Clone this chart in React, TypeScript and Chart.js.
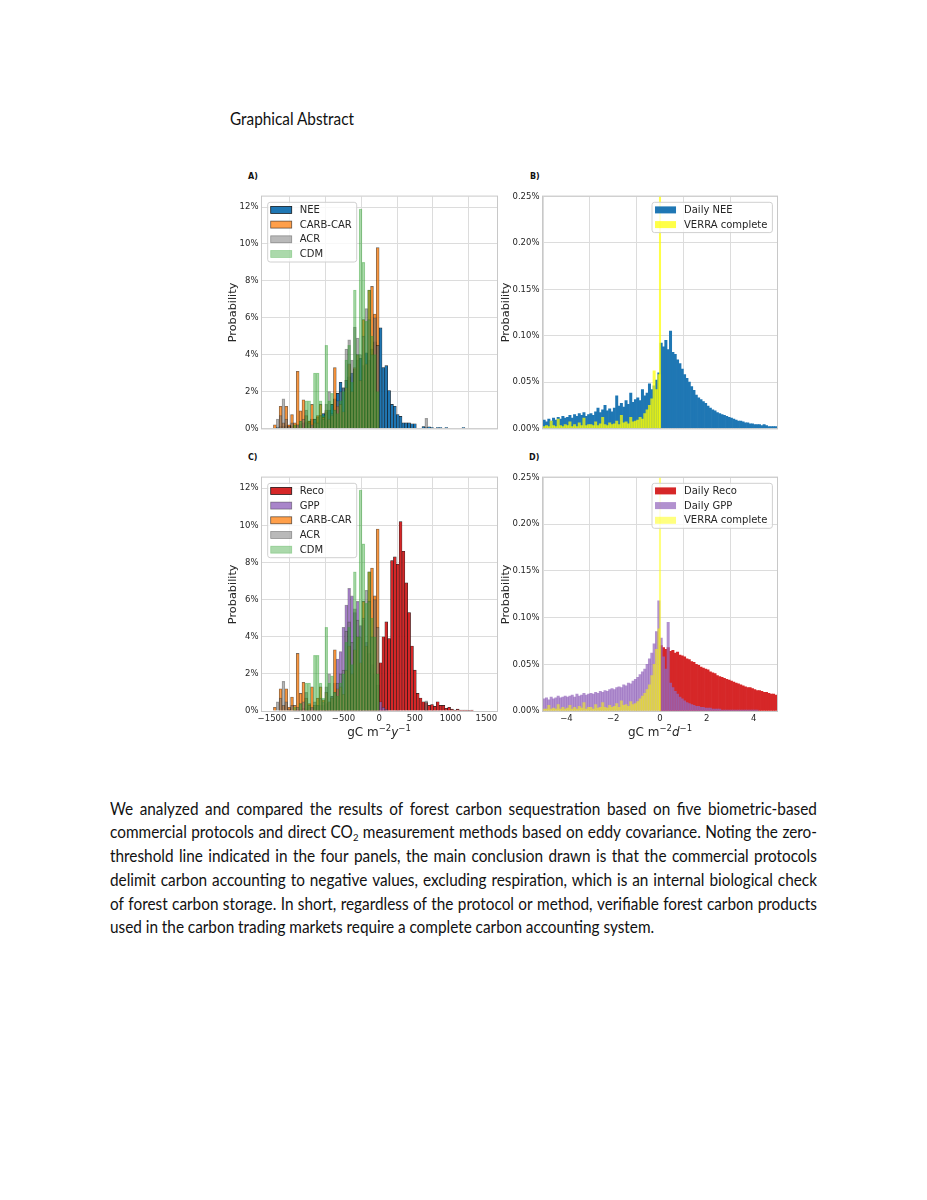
import React, { useEffect, useRef } from "react";
import { Chart, registerables } from "chart.js";

Chart.register(...registerables);

// ---------------- DATA ----------------
// Annual histograms (gC m-2 y-1), bin width 40, values in %
const ANNUAL_BIN = 40;
const NEE_START = -1520;
const neeAnnual = [
  0, 0, 0.05, 0.1, 0.1, 0.15, 0.15, 0.1, 0.2, 0.2,
  0.25, 0.3, 0.35, 0.4, 0.5, 0.5, 0.6, 0.7, 0.8, 0.9,
  1.0, 1.3, 1.6, 1.9, 2.5, 2.2, 2.6, 2.8, 3.0, 3.2,
  3.7, 3.8, 3.4, 4.1, 3.7, 4.3, 4.7, 4.5, 5.45, 3.3,
  3.4, 2.05, 1.3, 1.2, 0.75, 0.65, 0.3, 0.3, 0.3, 0.25,
  0.25, 0, 0, 0.1, 0.05, 0.08, 0.05, 0, 0.05, 0.05,
  0, 0.05, 0, 0, 0, 0, 0, 0.05,
];
const CARB_START = -1520;
const carbCar = [
  0, 0.2, 0, 1.2, 0.3, 1.2, 0.2, 0.75, 0.3, 3.1,
  0.95, 1.55, 0.7, 0.4, 1.3, 0.3, 0.7, 1.3, 0.6, 1.0,
  0.5, 0.7, 3.3, 1.2, 1.3, 0.9, 2.2, 3.5, 2.0, 3.3,
  4.0, 2.6, 5.9, 3.5, 7.5, 7.7, 6.2, 9.8,
];
const ACR_START = -1520;
const acr = [
  0, 0, 0.5, 0.7, 1.6, 0.5, 0.1, 0.3, 0, 0.2,
  0.4, 0.5, 1.0, 0.3, 0.2, 0.5, 0.3, 0.7, 0.5, 1.3,
  2.0, 0.8, 1.0, 1.5, 2.0, 2.2, 4.3, 4.8, 3.7, 5.5,
  4.9, 4.0, 5.0, 6.5, 5.9, 4.0, 6.0, 4.5, 0, 0,
  0, 0, 0, 0, 0, 0, 0, 0, 0, 0,
  0, 0, 0, 0, 0.55,
];
const CDM_START = -1520;
const cdm = [
  0, 0, 0, 0, 0, 0, 0, 0, 0.2, 0,
  0.4, 0, 1.5, 1.5, 0, 3.0, 3.0, 1.5, 0.7, 4.5,
  1.5, 1.9, 1.0, 0.8, 1.5, 2.0, 3.7, 4.5, 2.5, 7.5,
  4.0, 11.9, 9.0, 5.8, 7.5, 5.0, 4.0, 2.0,
];
const GPP_START = -1200;
const gppAnnual = [
  0.05, 0.1, 0.1, 0.15, 0.1, 0.2, 0.15, 0.2, 0.25, 0.3,
  0.3, 0.4, 0.5, 0.8, 1.5, 2.8, 3.2, 4.5, 5.7, 6.6,
  6.2, 5.3, 5.9, 4.6, 4.9, 3.7, 3.1, 2.5, 2.0, 1.4,
  0.5, 0.2, 0.1,
];
const RECO_START = 0;
const recoAnnual = [
  2.6, 4.0, 4.8, 3.9, 8.1, 8.3, 7.9, 10.2, 8.6, 6.9,
  5.3, 3.5, 2.2, 0.95, 0.7, 0.5, 0.45, 0.3, 0.35, 0.25,
  0.5, 0.3, 0.3, 0.15, 0.2, 0.1, 0.05, 0.1, 0.05, 0.05,
  0.05, 0.03, 0.05,
];

// Daily histograms (gC m-2 d-1), bin width 0.1, values in %
const DAILY_BIN = 0.1;
const DAILY_START = -5;
const dailyNEE = [
  0.009, 0.007, 0.010, 0.008, 0.011, 0.009, 0.012, 0.010, 0.013, 0.011,
  0.012, 0.014, 0.011, 0.015, 0.013, 0.016, 0.014, 0.017, 0.013, 0.015,
  0.016, 0.014, 0.018, 0.022, 0.017, 0.020, 0.025, 0.019, 0.021, 0.018,
  0.022, 0.035, 0.024, 0.027, 0.023, 0.030, 0.026, 0.038, 0.028, 0.031,
  0.033, 0.030, 0.042, 0.035, 0.038, 0.048, 0.042, 0.046, 0.052, 0.060,
  0.092, 0.088, 0.095, 0.085, 0.105, 0.082, 0.080, 0.074, 0.070, 0.064,
  0.058, 0.054, 0.050, 0.045, 0.041, 0.036, 0.033, 0.031, 0.029, 0.027,
  0.024, 0.022, 0.020, 0.019, 0.017, 0.016, 0.015, 0.014, 0.013, 0.012,
  0.011, 0.010, 0.009, 0.008, 0.008, 0.007, 0.006, 0.006, 0.005, 0.005,
  0.004, 0.004, 0.004, 0.003, 0.004, 0.003, 0.002, 0.002, 0.002, 0.002,
];
const verraDailyB = [
  0.002, 0.003, 0.002, 0.008, 0.003, 0.002, 0.010, 0.003, 0.002, 0.004,
  0.003, 0.007, 0.002, 0.004, 0.002, 0.006, 0.003, 0.011, 0.003, 0.004,
  0.004, 0.003, 0.007, 0.003, 0.005, 0.012, 0.004, 0.003, 0.006, 0.004,
  0.005, 0.008, 0.004, 0.014, 0.006, 0.007, 0.005, 0.012, 0.007, 0.008,
  0.009, 0.012, 0.010, 0.016, 0.020, 0.025, 0.032, 0.062, 0.042, 0.058,
];
const verraZeroB = 0.3;
const RECO_DAILY_START = 0;
const dailyReco = [
  0.070, 0.068, 0.066, 0.068, 0.064, 0.065, 0.062, 0.063, 0.060, 0.059,
  0.058, 0.056, 0.055, 0.053, 0.052, 0.050, 0.049, 0.047, 0.046, 0.045,
  0.044, 0.042, 0.041, 0.040, 0.038, 0.037, 0.036, 0.035, 0.034, 0.033,
  0.032, 0.031, 0.030, 0.029, 0.028, 0.027, 0.026, 0.025, 0.025, 0.024,
  0.023, 0.022, 0.022, 0.021, 0.020, 0.020, 0.019, 0.018, 0.018, 0.017,
];
const dailyGPP = [
  0.013, 0.014, 0.012, 0.015, 0.013, 0.014, 0.016, 0.014, 0.015, 0.016,
  0.015, 0.016, 0.017, 0.015, 0.018, 0.016, 0.017, 0.019, 0.017, 0.018,
  0.019, 0.018, 0.020, 0.019, 0.021, 0.020, 0.022, 0.021, 0.023, 0.024,
  0.023, 0.025, 0.026, 0.025, 0.028, 0.027, 0.030, 0.029, 0.032, 0.034,
  0.036, 0.039, 0.042, 0.045, 0.050, 0.056, 0.062, 0.072, 0.085, 0.118,
  0.078, 0.058, 0.045, 0.095, 0.030, 0.025, 0.021, 0.018, 0.015, 0.013,
  0.011, 0.009, 0.008, 0.007, 0.006, 0.005, 0.005, 0.004, 0.004, 0.003,
  0.003, 0.003, 0.002, 0.002, 0.002, 0.002, 0.001, 0.001, 0.001, 0.001,
  0.001, 0.001, 0.001, 0.001, 0.001, 0.001, 0.001, 0.001, 0.001, 0.001,
  0.001, 0.001, 0, 0, 0, 0, 0, 0, 0, 0,
];
const verraDailyD = [
  0.002, 0.002, 0.006, 0.002, 0.003, 0.002, 0.007, 0.002, 0.004, 0.002,
  0.003, 0.006, 0.002, 0.004, 0.002, 0.005, 0.003, 0.009, 0.002, 0.004,
  0.004, 0.002, 0.007, 0.003, 0.004, 0.009, 0.004, 0.003, 0.006, 0.004,
  0.005, 0.008, 0.004, 0.011, 0.006, 0.007, 0.005, 0.010, 0.007, 0.008,
  0.010, 0.013, 0.016, 0.019, 0.023, 0.028, 0.038, 0.050, 0.066, 0.088,
];
const verraZeroD = 0.3;
const VERRA_ZERO_WIDTH = 0.06;

// Axis ticks
const annualXTicks = [-1500, -1000, -500, 0, 500, 1000, 1500];
const annualXLabels = ["\u22121500", "\u22121000", "\u2212500", "0", "500", "1000", "1500"];
const annualYTicks = [0, 2, 4, 6, 8, 10, 12];
const annualYLabels = ["0%", "2%", "4%", "6%", "8%", "10%", "12%"];
const dailyXTicks = [-4, -2, 0, 2, 4];
const dailyXLabels = ["\u22124", "\u22122", "0", "2", "4"];
const dailyYTicks = [0, 0.05, 0.1, 0.15, 0.2, 0.25];
const dailyYLabels = ["0.00%", "0.05%", "0.10%", "0.15%", "0.20%", "0.25%"];

const paragraphLines = [
  "We analyzed and compared the results of forest carbon sequestration based on five biometric-based",
  "commercial protocols and direct CO\u2082 measurement methods based on eddy covariance. Noting the zero-",
  "threshold line indicated in the four panels, the main conclusion drawn is that the commercial protocols",
  "delimit carbon accounting to negative values, excluding respiration, which is an internal biological check",
  "of forest carbon storage. In short, regardless of the protocol or method, verifiable forest carbon products",
  "used in the carbon trading markets require a complete carbon accounting system.",
];

// ---------------- HELPERS ----------------
type Pt = { x: number; y: number; w: number };
function makeBins(start: number, width: number, values: number[]): Pt[] {
  return values
    .map((v, i) => ({ x: start + width * (i + 0.5), y: v, w: width }))
    .filter((p) => p.y > 0);
}

const FONT = "'DejaVu Sans', sans-serif";
const TXT = "#262626";
const BODY_FONT = "Lato, 'Open Sans', sans-serif";

const STY = {
  nee: { fill: "rgb(31,119,180)", edge: "rgba(0,0,0,0.85)", bw: 0.6 },
  carb: { fill: "rgba(255,127,14,0.75)", edge: "rgba(0,0,0,0.6)", bw: 0.6 },
  acr: { fill: "rgba(128,128,128,0.55)", edge: "rgba(0,0,0,0.35)", bw: 0.6 },
  cdm: { fill: "rgba(44,160,44,0.4)", edge: "rgba(44,160,44,0.35)", bw: 0.5 },
  reco: { fill: "rgb(214,39,40)", edge: "rgba(0,0,0,0.85)", bw: 0.6 },
  gpp: { fill: "rgba(148,103,189,0.8)", edge: "rgba(0,0,0,0.4)", bw: 0.6 },
  dNee: { fill: "rgb(31,119,180)", edge: "rgba(0,0,0,0)", bw: 0 },
  verraB: { fill: "rgba(255,255,0,0.72)", edge: "rgba(0,0,0,0)", bw: 0 },
  dReco: { fill: "rgb(214,39,40)", edge: "rgba(0,0,0,0)", bw: 0 },
  dGpp: { fill: "rgba(148,103,189,0.72)", edge: "rgba(0,0,0,0)", bw: 0 },
  verraD: { fill: "rgba(255,255,0,0.5)", edge: "rgba(0,0,0,0)", bw: 0 },
};

type Series = { label: string; data: Pt[]; sty: { fill: string; edge: string; bw: number } };

const histPlugin = {
  id: "histWidth",
  afterDatasetsUpdate(chart: any) {
    const xs = chart.scales.x;
    chart.data.datasets.forEach((ds: any, di: number) => {
      const meta = chart.getDatasetMeta(di);
      meta.data.forEach((el: any, i: number) => {
        const d = ds.data[i];
        const l = xs.getPixelForValue(d.x - d.w / 2);
        const r = xs.getPixelForValue(d.x + d.w / 2);
        el.x = (l + r) / 2;
        el.width = Math.max(r - l, 0.8);
      });
    });
  },
};

const framePlugin = {
  id: "frame",
  afterDatasetsDraw(chart: any) {
    const { ctx, chartArea: a } = chart;
    ctx.save();
    ctx.strokeStyle = "#c8c8c8";
    ctx.lineWidth = 1;
    ctx.strokeRect(a.left - 0.5, a.top - 0.5, a.right - a.left + 1, a.bottom - a.top + 1);
    ctx.restore();
  },
};

const legendPlugin = {
  id: "mplLegend",
  afterDraw(chart: any, _args: any, opts: any) {
    const items = opts.items as Series[];
    if (!items || !items.length) return;
    const { ctx, chartArea: a } = chart;
    ctx.save();
    ctx.font = `10px ${FONT}`;
    const tw = Math.max(...items.map((it) => ctx.measureText(it.label).width));
    const bw = 3 + 21 + 8 + tw + 5;
    const bh = 15.6 + (items.length - 1) * 14.7;
    const x0 = opts.align === "right" ? a.right - 4.6 - bw : a.left + 5.7;
    const y0 = a.top + 5.7;
    const r = 2.5;
    ctx.beginPath();
    ctx.moveTo(x0 + r, y0);
    ctx.lineTo(x0 + bw - r, y0);
    ctx.quadraticCurveTo(x0 + bw, y0, x0 + bw, y0 + r);
    ctx.lineTo(x0 + bw, y0 + bh - r);
    ctx.quadraticCurveTo(x0 + bw, y0 + bh, x0 + bw - r, y0 + bh);
    ctx.lineTo(x0 + r, y0 + bh);
    ctx.quadraticCurveTo(x0, y0 + bh, x0, y0 + bh - r);
    ctx.lineTo(x0, y0 + r);
    ctx.quadraticCurveTo(x0, y0, x0 + r, y0);
    ctx.closePath();
    ctx.fillStyle = "rgba(255,255,255,0.8)";
    ctx.fill();
    ctx.strokeStyle = "#d0d0d0";
    ctx.lineWidth = 1;
    ctx.stroke();
    items.forEach((it, i) => {
      const cy = y0 + 7.6 + i * 14.7;
      ctx.fillStyle = it.sty.fill;
      ctx.fillRect(x0 + 3, cy - 3.5, 21, 7);
      if (it.sty.bw > 0) {
        ctx.strokeStyle = it.sty.edge;
        ctx.lineWidth = 0.8;
        ctx.strokeRect(x0 + 3, cy - 3.5, 21, 7);
      }
      ctx.fillStyle = TXT;
      ctx.textBaseline = "middle";
      ctx.textAlign = "left";
      ctx.fillText(it.label, x0 + 32, cy + 0.5);
    });
    ctx.restore();
  },
};

type PanelProps = {
  left: number;
  top: number;
  width: number;
  height: number;
  yW: number;
  xH: number;
  series: Series[]; // bottom-most first
  legendAlign: "left" | "right";
  xMin: number;
  xMax: number;
  xTicks: number[];
  xLabels: string[] | null;
  yMax: number;
  yTicks: number[];
  yLabels: string[];
};

function Panel(p: PanelProps) {
  const ref = useRef<HTMLCanvasElement>(null);
  useEffect(() => {
    const tickFont = { family: FONT, size: 8.5 };
    const gridCfg = { color: "#dcdcdc", lineWidth: 1, drawTicks: false };
    const ordered = [...p.series].reverse();
    const chart = new Chart(ref.current as HTMLCanvasElement, {
      type: "bar",
      data: {
        datasets: ordered.map((s) => ({
          label: s.label,
          data: s.data as any,
          backgroundColor: s.sty.fill,
          borderColor: s.sty.edge,
          borderWidth: s.sty.bw,
          grouped: false,
          barPercentage: 1,
          categoryPercentage: 1,
        })) as any,
      },
      options: {
        responsive: false,
        animation: false,
        events: [],
        layout: { padding: { top: 8, right: 12, bottom: 0, left: 0 } },
        plugins: {
          legend: { display: false },
          tooltip: { enabled: false },
          mplLegend: { items: p.series, align: p.legendAlign },
        } as any,
        scales: {
          x: {
            type: "linear",
            min: p.xMin,
            max: p.xMax,
            offset: false,
            grid: gridCfg,
            border: { display: false },
            ticks: {
              display: !!p.xLabels,
              font: tickFont,
              color: TXT,
              padding: 3,
              maxRotation: 0,
              autoSkip: false,
              callback: (_v: any, i: number) => (p.xLabels ? p.xLabels[i] : ""),
            },
            afterBuildTicks: (s: any) => {
              s.ticks = p.xTicks.map((v) => ({ value: v }));
            },
            afterFit: (s: any) => {
              s.height = p.xH;
            },
          },
          y: {
            type: "linear",
            min: 0,
            max: p.yMax,
            grid: gridCfg,
            border: { display: false },
            ticks: {
              font: tickFont,
              color: TXT,
              padding: 3.5,
              autoSkip: false,
              callback: (_v: any, i: number) => p.yLabels[i],
            },
            title: {
              display: true,
              text: "Probability",
              font: { family: FONT, size: 11.3 },
              color: TXT,
              padding: 0,
            },
            afterBuildTicks: (s: any) => {
              s.ticks = p.yTicks.map((v) => ({ value: v }));
            },
            afterFit: (s: any) => {
              s.width = p.yW;
            },
          },
        } as any,
      },
      plugins: [histPlugin, framePlugin, legendPlugin],
    });
    return () => chart.destroy();
  }, []);
  return (
    <canvas
      ref={ref}
      width={p.width}
      height={p.height}
      style={{ position: "absolute", left: p.left, top: p.top, width: p.width, height: p.height }}
    />
  );
}

function Word({ w }: { w: string }) {
  if (w.includes("\u2082")) {
    const [a, b] = w.split("\u2082");
    return (
      <span>
        {a}
        <span style={{ fontSize: "0.62em", position: "relative", top: 3 }}>2</span>
        {b}
      </span>
    );
  }
  return <span>{w}</span>;
}

const PARA_LEFT = 110;
const PARA_WIDTH = 707;
const PARA_SCALE = 0.93;
const PARA_FONT = 16.5;
const PARA_TOP = 800.5;
const PARA_STEP = 23.75;

function Paragraph() {
  return (
    <>
      {paragraphLines.map((line, li) => {
        const last = li === paragraphLines.length - 1;
        const words = line.split(" ");
        return (
          <div
            key={li}
            style={{
              position: "absolute",
              left: PARA_LEFT,
              top: PARA_TOP + li * PARA_STEP,
              width: PARA_WIDTH / PARA_SCALE,
              transform: `scaleX(${PARA_SCALE})`,
              transformOrigin: "left top",
              display: "flex",
              justifyContent: last ? "flex-start" : "space-between",
              gap: last ? "0.25em" : 0,
              whiteSpace: "nowrap",
              fontFamily: BODY_FONT,
              fontSize: PARA_FONT,
              lineHeight: "16px",
              color: "#111",
            }}
          >
            {words.map((w, i) => (
              <Word key={i} w={w} />
            ))}
          </div>
        );
      })}
    </>
  );
}

function XTitle({ cx, unit }: { cx: number; unit: string }) {
  const sup = { fontSize: 8.5, position: "relative" as const, top: -5 };
  return (
    <div
      style={{
        position: "absolute",
        left: cx,
        top: 726,
        transform: "translateX(-50%)",
        fontFamily: FONT,
        fontSize: 12,
        lineHeight: "12px",
        color: TXT,
        whiteSpace: "nowrap",
      }}
    >
      gC m<span style={sup}>{"\u22122"}</span>
      <i>{unit}</i>
      <span style={sup}>{"\u22121"}</span>
    </div>
  );
}

function Letter({ x, y, t }: { x: number; y: number; t: string }) {
  return (
    <div
      style={{
        position: "absolute",
        left: x,
        top: y,
        fontFamily: FONT,
        fontWeight: "bold",
        fontSize: 8,
        lineHeight: "8px",
        color: "#111",
      }}
    >
      {t}
    </div>
  );
}

export default function App() {
  const annualX = { xMin: -1640, xMax: 1650, xTicks: annualXTicks, yMax: 12.57, yTicks: annualYTicks, yLabels: annualYLabels };
  const dailyX = { xMin: -5, xMax: 5, xTicks: dailyXTicks, yMax: 0.25, yTicks: dailyYTicks, yLabels: dailyYLabels };

  const sNee: Series = { label: "NEE", data: makeBins(NEE_START, ANNUAL_BIN, neeAnnual), sty: STY.nee };
  const sCarb: Series = { label: "CARB-CAR", data: makeBins(CARB_START, ANNUAL_BIN, carbCar), sty: STY.carb };
  const sAcr: Series = { label: "ACR", data: makeBins(ACR_START, ANNUAL_BIN, acr), sty: STY.acr };
  const sCdm: Series = { label: "CDM", data: makeBins(CDM_START, ANNUAL_BIN, cdm), sty: STY.cdm };
  const sReco: Series = { label: "Reco", data: makeBins(RECO_START, ANNUAL_BIN, recoAnnual), sty: STY.reco };
  const sGpp: Series = { label: "GPP", data: makeBins(GPP_START, ANNUAL_BIN, gppAnnual), sty: STY.gpp };

  const sDNee: Series = { label: "Daily NEE", data: makeBins(DAILY_START, DAILY_BIN, dailyNEE), sty: STY.dNee };
  const sVerraB: Series = {
    label: "VERRA complete",
    data: [...makeBins(DAILY_START, DAILY_BIN, verraDailyB), { x: 0, y: verraZeroB, w: VERRA_ZERO_WIDTH }],
    sty: STY.verraB,
  };
  const sDReco: Series = { label: "Daily Reco", data: makeBins(RECO_DAILY_START, DAILY_BIN, dailyReco), sty: STY.dReco };
  const sDGpp: Series = { label: "Daily GPP", data: makeBins(DAILY_START, DAILY_BIN, dailyGPP), sty: STY.dGpp };
  const sVerraD: Series = {
    label: "VERRA complete",
    data: [...makeBins(DAILY_START, DAILY_BIN, verraDailyD), { x: 0, y: verraZeroD, w: VERRA_ZERO_WIDTH }],
    sty: STY.verraD,
  };

  return (
    <div style={{ position: "absolute", left: 0, top: 0, width: 927, height: 1200, background: "#fff" }}>
      <div
        style={{
          position: "absolute",
          left: 230,
          top: 111,
          fontFamily: BODY_FONT,
          fontSize: 16.5,
          lineHeight: "16px",
          transform: `scaleX(${PARA_SCALE})`,
          transformOrigin: "left top",
          color: "#111",
          whiteSpace: "nowrap",
        }}
      >
        Graphical Abstract
      </div>

      <Letter x={248} y={173} t="A)" />
      <Letter x={530} y={173} t="B)" />
      <Letter x={248} y={454} t="C)" />
      <Letter x={529} y={454} t="D)" />

      <Panel left={226} top={188} width={283} height={249} yW={36} xH={6}
        series={[sNee, sCarb, sAcr, sCdm]} legendAlign="left" xLabels={null} {...annualX} />
      <Panel left={499} top={188} width={290} height={249} yW={44} xH={6}
        series={[sDNee, sVerraB]} legendAlign="right" xLabels={null} {...dailyX} />
      <Panel left={226} top={469} width={283} height={260} yW={36} xH={18}
        series={[sReco, sGpp, sCarb, sAcr, sCdm]} legendAlign="left" xLabels={annualXLabels} {...annualX} />
      <Panel left={499} top={469} width={290} height={260} yW={44} xH={18}
        series={[sDReco, sDGpp, sVerraD]} legendAlign="right" xLabels={dailyXLabels} {...dailyX} />

      <XTitle cx={379} unit="y" />
      <XTitle cx={660} unit="d" />

      <Paragraph />
    </div>
  );
}
